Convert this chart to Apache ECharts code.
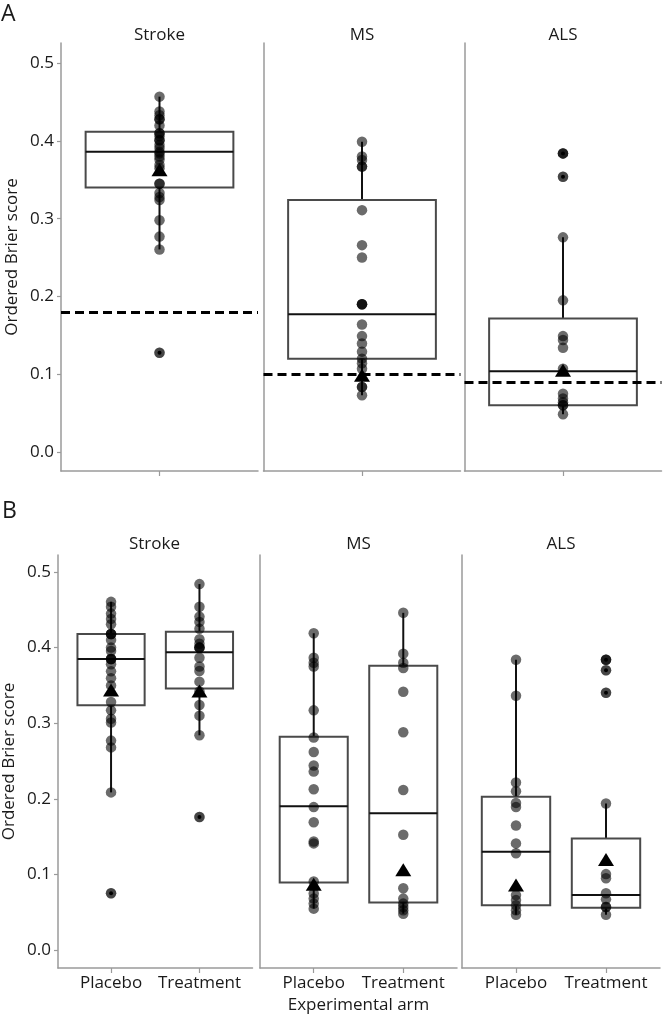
<!DOCTYPE html>
<html>
<head>
<meta charset="utf-8">
<script src="https://cdn.jsdelivr.net/npm/echarts@6.0.0/dist/echarts.min.js"></script>
<style>
html,body{margin:0;padding:0;background:#fff;}
#chart{width:664px;height:1019px;}
</style>
</head>
<body>
<div id="chart"></div>
<script>
// ---------------- DATA ----------------
const diseases = ['Stroke', 'MS', 'ALS'];
const arms = ['Placebo', 'Treatment'];
const yTicks = [0, 0.1, 0.2, 0.3, 0.4, 0.5];

// Panel A (pooled): box stats [lowWhisker, q1, median, q3, highWhisker]
const boxA_Stroke = [0.2605, 0.340, 0.386, 0.412, 0.457];
const boxA_MS = [0.073, 0.120, 0.177, 0.324, 0.399];
const boxA_ALS = [0.0485, 0.060, 0.1039, 0.1717, 0.276];
const meanA = [0.363, 0.0987, 0.105];
const refA = [0.184, 0.0966, 0.090];
const ptsA_Stroke = [0.457, 0.438, 0.433, 0.428, 0.428, 0.420, 0.410, 0.410, 0.406, 0.401, 0.401, 0.395, 0.391, 0.386, 0.384, 0.380, 0.376, 0.369, 0.365, 0.345, 0.345, 0.333, 0.328, 0.324, 0.298, 0.277, 0.2605, 0.1275];
const ptsA_MS = [0.399, 0.380, 0.3755, 0.367, 0.367, 0.311, 0.266, 0.250, 0.190, 0.190, 0.190, 0.164, 0.149, 0.1395, 0.129, 0.120, 0.114, 0.107, 0.0837, 0.0837, 0.073];
const ptsA_ALS = [0.384, 0.384, 0.354, 0.276, 0.195, 0.149, 0.144, 0.134, 0.107, 0.075, 0.0687, 0.064, 0.060, 0.060, 0.0485];
const outA_Stroke = [0.1275];
const outA_MS = [];
const outA_ALS = [0.384, 0.354];

// Panel B (by arm): [Placebo, Treatment] box stats
const boxB_Stroke = [[0.2085, 0.3238, 0.385, 0.418, 0.4605], [0.284, 0.346, 0.394, 0.421, 0.484]];
const boxB_MS = [[0.0547, 0.0892, 0.190, 0.282, 0.419], [0.048, 0.0628, 0.181, 0.376, 0.446]];
const boxB_ALS = [[0.0466, 0.0592, 0.130, 0.2027, 0.384], [0.0466, 0.056, 0.0726, 0.1475, 0.1937]];
const meanB_Stroke = [0.344, 0.3426];
const meanB_MS = [0.087, 0.106];
const meanB_ALS = [0.086, 0.1197];
const ptsB_Stroke_Placebo = [0.4605, 0.454, 0.445, 0.438, 0.431, 0.418, 0.418, 0.418, 0.410, 0.400, 0.3955, 0.385, 0.385, 0.385, 0.378, 0.3686, 0.3596, 0.350, 0.328, 0.317, 0.306, 0.301, 0.277, 0.268, 0.2085, 0.075];
const ptsB_Stroke_Treatment = [0.484, 0.454, 0.441, 0.434, 0.425, 0.411, 0.405, 0.400, 0.400, 0.400, 0.3865, 0.375, 0.369, 0.355, 0.342, 0.324, 0.310, 0.284, 0.176];
const ptsB_MS_Placebo = [0.419, 0.3865, 0.380, 0.375, 0.317, 0.281, 0.262, 0.244, 0.236, 0.2126, 0.189, 0.169, 0.1435, 0.141, 0.0906, 0.0749, 0.068, 0.0614, 0.0547];
const ptsB_MS_Treatment = [0.446, 0.392, 0.380, 0.373, 0.3417, 0.288, 0.2117, 0.1525, 0.0816, 0.068, 0.0614, 0.057, 0.0525, 0.048];
const ptsB_ALS_Placebo = [0.384, 0.3363, 0.2215, 0.210, 0.1946, 0.189, 0.1646, 0.141, 0.128, 0.0726, 0.066, 0.0592, 0.0525, 0.0466];
const ptsB_ALS_Treatment = [0.384, 0.384, 0.370, 0.3404, 0.1937, 0.1004, 0.095, 0.075, 0.067, 0.057, 0.057, 0.0466];
const outB_Stroke = [[0.075], [0.176]];
const outB_MS = [[], []];
const outB_ALS = [[], [0.384, 0.370, 0.3404]];

// ---------------- LAYOUT / STYLE ----------------
const FONT = 'Open Sans';
const FS = 17;
const AXIS_COLOR = '#9a9a9a';
const gridsA = [
  {left: 61, top: 43, width: 197, height: 428},
  {left: 263.5, top: 43, width: 197, height: 428},
  {left: 464.5, top: 43, width: 197, height: 428}
];
const gridsB = [
  {left: 56.5, top: 555, width: 196, height: 413},
  {left: 260, top: 555, width: 197, height: 413},
  {left: 462, top: 555, width: 198, height: 413}
];
const yRangeA = [-0.0245, 0.526];
const yRangeB = [-0.0238, 0.5225];

function renderBox(hw) {
  return function (params, api) {
    const x = api.value(0);
    const lo = api.coord([x, api.value(1)]);
    const q1 = api.coord([x, api.value(2)]);
    const md = api.coord([x, api.value(3)]);
    const q3 = api.coord([x, api.value(4)]);
    const hi = api.coord([x, api.value(5)]);
    const l = api.coord([x - hw, api.value(3)])[0];
    const r = api.coord([x + hw, api.value(3)])[0];
    return {
      type: 'group',
      children: [
        {type: 'line', shape: {x1: lo[0], y1: lo[1], x2: q1[0], y2: q1[1]}, style: {stroke: '#111', lineWidth: 2}},
        {type: 'line', shape: {x1: q3[0], y1: q3[1], x2: hi[0], y2: hi[1]}, style: {stroke: '#111', lineWidth: 2}},
        {type: 'rect', shape: {x: l, y: q3[1], width: r - l, height: q1[1] - q3[1]}, style: {fill: 'none', stroke: '#4a4a4a', lineWidth: 2}},
        {type: 'line', shape: {x1: l, y1: md[1], x2: r, y2: md[1]}, style: {stroke: '#111', lineWidth: 2}}
      ]
    };
  };
}

const xAxes = [], yAxes = [], series = [];

function addFacet(gi, grid, boxes, ptsList, outsList, means, ref, isB, col, yr) {
  const hw = isB ? 0.38 : 0.75;
  const xmin = isB ? -0.6 : -1, xmax = isB ? 1.6 : 1;
  const xs = isB ? [0, 1] : [0];
  xAxes.push({
    gridIndex: gi, type: 'value', min: xmin, max: xmax,
    axisLine: {show: true, onZero: false, lineStyle: {color: AXIS_COLOR, width: 1.5}},
    axisTick: {show: true, customValues: xs, length: 5, lineStyle: {color: AXIS_COLOR, width: 1.2}},
    axisLabel: {show: isB, customValues: xs, margin: 7, fontFamily: FONT, fontSize: FS, color: '#1a1a1a',
      formatter: function (v) { return arms[Math.round(v)]; }},
    splitLine: {show: false},
    name: (isB && col === 1) ? 'Experimental arm' : '',
    nameLocation: 'middle', nameGap: 29,
    nameTextStyle: {fontFamily: FONT, fontSize: FS, color: '#1a1a1a'}
  });
  yAxes.push({
    gridIndex: gi, type: 'value', min: yr[0], max: yr[1],
    axisLine: {show: true, onZero: false, lineStyle: {color: AXIS_COLOR, width: 1.5}},
    axisTick: {show: col === 0, customValues: yTicks, length: 4, lineStyle: {color: AXIS_COLOR, width: 1.2}},
    axisLabel: {show: col === 0, customValues: yTicks, margin: 7, fontFamily: FONT, fontSize: FS, color: '#1a1a1a',
      formatter: function (v) { return v.toFixed(1); }},
    splitLine: {show: false},
    name: col === 0 ? 'Ordered Brier score' : '',
    nameLocation: 'middle', nameGap: 40,
    nameTextStyle: {fontFamily: FONT, fontSize: FS, color: '#1a1a1a'}
  });
  const boxData = boxes.map(function (b, i) { return [xs[i]].concat(b); });
  series.push({
    type: 'custom', xAxisIndex: gi, yAxisIndex: gi, z: 1, silent: true,
    renderItem: renderBox(hw), data: boxData
  });
  const ptData = [];
  ptsList.forEach(function (arr, i) { arr.forEach(function (v) { ptData.push([xs[i], v]); }); });
  const ptSeries = {
    type: 'scatter', xAxisIndex: gi, yAxisIndex: gi, z: 2, silent: true,
    symbol: 'circle', symbolSize: 10.5,
    itemStyle: {color: 'rgba(0,0,0,0.58)', borderWidth: 0, opacity: 1},
    data: ptData
  };
  if (ref !== null) {
    ptSeries.markLine = {
      silent: true, symbol: ['none', 'none'], label: {show: false},
      lineStyle: {color: '#000', width: 3, type: [9, 5], opacity: 1},
      data: [{yAxis: ref}]
    };
  }
  series.push(ptSeries);
  const outData = [];
  outsList.forEach(function (arr, i) { arr.forEach(function (v) { outData.push([xs[i], v]); }); });
  series.push({
    type: 'scatter', xAxisIndex: gi, yAxisIndex: gi, z: 3, silent: true,
    symbol: 'circle', symbolSize: 10.5, itemStyle: {color: 'rgba(0,0,0,0.35)', opacity: 1}, data: outData
  });
  series.push({
    type: 'scatter', xAxisIndex: gi, yAxisIndex: gi, z: 4, silent: true,
    symbol: 'circle', symbolSize: 4, itemStyle: {color: '#000', opacity: 1}, data: outData
  });
  series.push({
    type: 'scatter', xAxisIndex: gi, yAxisIndex: gi, z: 5, silent: true,
    symbol: 'triangle', symbolSize: [16, 13], itemStyle: {color: '#000', opacity: 1},
    data: means.map(function (m, i) { return [xs[i], m]; })
  });
}

addFacet(0, gridsA[0], [boxA_Stroke], [ptsA_Stroke], [outA_Stroke], [meanA[0]], refA[0], false, 0, yRangeA);
addFacet(1, gridsA[1], [boxA_MS], [ptsA_MS], [outA_MS], [meanA[1]], refA[1], false, 1, yRangeA);
addFacet(2, gridsA[2], [boxA_ALS], [ptsA_ALS], [outA_ALS], [meanA[2]], refA[2], false, 2, yRangeA);
addFacet(3, gridsB[0], boxB_Stroke, [ptsB_Stroke_Placebo, ptsB_Stroke_Treatment], outB_Stroke, meanB_Stroke, null, true, 0, yRangeB);
addFacet(4, gridsB[1], boxB_MS, [ptsB_MS_Placebo, ptsB_MS_Treatment], outB_MS, meanB_MS, null, true, 1, yRangeB);
addFacet(5, gridsB[2], boxB_ALS, [ptsB_ALS_Placebo, ptsB_ALS_Treatment], outB_ALS, meanB_ALS, null, true, 2, yRangeB);

const grids = gridsA.concat(gridsB).map(function (g) { return Object.assign({containLabel: false}, g); });

const graphics = [];
function txt(x, y, s, size, align) {
  graphics.push({type: 'text', x: x, y: y, silent: true,
    style: {text: s, font: size + 'px "' + FONT + '"', fill: '#1a1a1a', textAlign: align, textVerticalAlign: 'middle'}});
}
txt(1, 14, 'A', 23, 'left');
txt(2, 511, 'B', 23, 'left');
gridsA.forEach(function (g, i) { txt(g.left + g.width / 2, 35, diseases[i], FS, 'center'); });
gridsB.forEach(function (g, i) { txt(g.left + g.width / 2, 544, diseases[i], FS, 'center'); });

const chart = echarts.init(document.getElementById('chart'), null, {renderer: 'canvas'});
chart.setOption({
  animation: false,
  backgroundColor: '#fff',
  grid: grids,
  xAxis: xAxes,
  yAxis: yAxes,
  series: series,
  graphic: graphics
});
</script>
</body>
</html>
